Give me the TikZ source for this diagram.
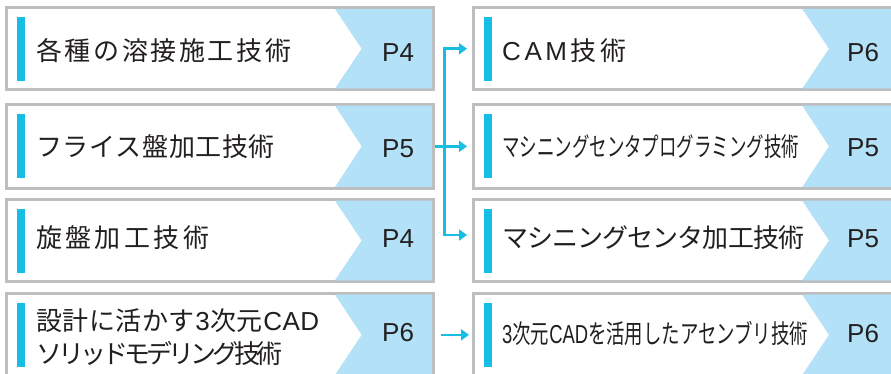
\documentclass[tikz,border=0pt]{standalone}
\usepackage{fontspec}
\usepackage{graphicx}
\setmainfont{Liberation Sans}
\newfontfamily\jp{Noto Sans CJK JP}
\newfontfamily\lat{Liberation Sans}
\usetikzlibrary{arrows.meta,calc}
\definecolor{boxgray}{HTML}{BCBEC0}
\definecolor{lblue}{HTML}{B3E1F7}
\definecolor{barcyan}{HTML}{17BEE3}
\definecolor{txt}{HTML}{231F20}
\newlength\lsp
\newlength\natw
\def\spstopmark{\spstop}
\def\spacedaux#1{\def\sptmp{#1}\ifx\sptmp\spstopmark\else{#1}\hskip\lsp\relax\expandafter\spacedaux\fi}
\newcommand\fitw[3]{\settowidth\natw{#3}\setlength\lsp{\dimexpr(#1-\natw)/#2\relax}\spacedaux#3\spstop}
\newcommand\chev[1]{%
  \fill[lblue] ($(#1.north east)+(-98.3,1.5)$) -- ($(#1.east)+(-71.6,0)$) --
    ($(#1.south east)+(-98.3,-1.5)$) -- ($(#1.south east)+(-1.5,-1.5)$) --
    ($(#1.north east)+(-1.5,1.5)$) -- cycle;
  \fill[barcyan] ($(#1.north west)+(10.5,9.5)$) rectangle ($(#1.north west)+(18.5,73.5)$);}
\begin{document}
\begin{tikzpicture}[x=1pt,y=-1pt,
  box/.style={draw=boxgray,line width=3pt,fill=white,anchor=north west,minimum width=426.8pt,inner sep=0pt,outer sep=0pt},
  lab/.style={anchor=base west,inner sep=0pt,font=\jp\fontsize{26}{30}\selectfont,text=txt},
  plab/.style={anchor=base west,inner sep=0pt,font=\lat\fontsize{26}{30}\selectfont,text=txt},
  conn/.style={draw=barcyan,line width=2.7pt},
  arr/.style={conn,-{Triangle[length=8pt,width=11pt]}}]
\useasboundingbox (0,0) rectangle (891,374);
\clip (0,0) rectangle (891,374);
% boxes
\node[box,minimum height=82.5pt] (L1) at (6.5,7.5) {};
\node[box,minimum height=84.3pt] (L2) at (6.5,104.2) {};
\node[box,minimum height=82.6pt] (L3) at (6.5,199.2) {};
\node[box,minimum height=83.3pt] (L4) at (6.5,293.2) {};
\node[box,minimum height=82.5pt] (R1) at (473.8,7.5) {};
\node[box,minimum height=84.3pt] (R2) at (473.8,104.2) {};
\node[box,minimum height=82.6pt] (R3) at (473.8,199.2) {};
\node[box,minimum height=83.3pt] (R4) at (473.8,293.2) {};
\chev{L1}\chev{L2}\chev{L3}\chev{L4}
\chev{R1}\chev{R2}\chev{R3}\chev{R4}
% labels left
\node[lab] (tL1) at (36,60.5) {\fitw{255pt}{8}{各種の溶接施工技術}};
\node[lab] (tL2) at (36,156.5) {\fitw{238pt}{8}{フライス盤加工技術}};
\node[lab] (tL3) at (36,247.5) {\fitw{173pt}{5}{旋盤加工技術}};
\node[lab] (tL4a) at (36,330.5) {\fitw{283pt}{11}{設計に活かす{\lat 3}次元{\lat C}{\lat A}{\lat D}}};
\node[lab] (tL4b) at (36,363.5) {\fitw{246pt}{10}{ソリッドモデリング技術}};
% labels right
\node[lab] (tR1) at (502,60.5) {\fitw{124pt}{4}{{\lat C}{\lat A}{\lat M}技術}};
\node[lab] (tR2) at (502,156.5) {\resizebox{297pt}{\height}{マシニングセンタプログラミング技術}};
\node[lab] (tR3) at (502,247.5) {\fitw{302pt}{11}{マシニングセンタ加工技術}};
\node[lab] (tR4) at (502,343.5) {\resizebox{306pt}{\height}{{\lat 3}次元{\lat CAD}を活用したアセンブリ技術}};
% page labels
\node[plab] (pL1) at (382,62) {P4};
\node[plab] (pL2) at (382,157.3) {P5};
\node[plab] (pL3) at (382,247.7) {P4};
\node[plab] (pL4) at (382,341.7) {P6};
\node[plab] (pR1) at (847,61.5) {P6};
\node[plab] (pR2) at (847,157) {P5};
\node[plab] (pR3) at (847,247.7) {P5};
\node[plab] (pR4) at (847,342) {P6};
% connectors
\coordinate (vx) at (444.7,0);
\coordinate (r3in) at ([yshift=5.5pt]R3.west);
\draw[conn,{Triangle[length=8pt,width=11pt]}-{Triangle[length=8pt,width=11pt]},shorten <=6.8pt,shorten >=6.8pt]
  (R1.west) -- (vx |- R1.west) -- (vx |- r3in) -- (r3in);
\draw[arr,shorten <=1.5pt,shorten >=6.8pt] (L2.east) -- (R2.west);
\draw[arr,shorten <=7.7pt,shorten >=4.8pt] (L4.east) -- (R4.west);
\end{tikzpicture}
\end{document}
